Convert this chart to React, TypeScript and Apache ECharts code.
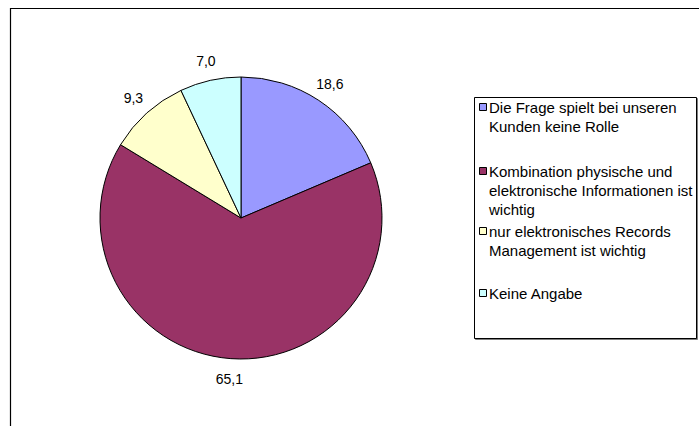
import React, { useEffect, useRef } from "react";
import * as echarts from "echarts";

const categories = [
  "Die Frage spielt bei unseren\nKunden keine Rolle",
  "Kombination physische und\nelektronische Informationen ist\nwichtig",
  "nur elektronisches Records\nManagement ist wichtig",
  "Keine Angabe",
];
const values = [18.6, 65.1, 9.3, 7.0];
const colors = ["#9999FF", "#993366", "#FFFFCC", "#CCFFFF"];

const FONT = "'Liberation Sans', Arial, sans-serif";

export default function App() {
  const ref = useRef<HTMLDivElement>(null);
  useEffect(() => {
    if (!ref.current) return;
    const chart = echarts.init(ref.current, null, { renderer: "svg" });
    const cx = 241;
    const cy = 218;
    const R = 141;
    const total = values.reduce((a, b) => a + b, 0);
    const midAngles: number[] = [];
    let acc = 0;
    values.forEach((v) => {
      midAngles.push(((acc + v / 2) / total) * Math.PI * 2);
      acc += v;
    });
    const legendTops = [97.5, 161.5, 221.5, 283.5];
    const legendGraphics: any[] = [];
    categories.forEach((name, i) => {
      legendGraphics.push({
        type: "rect",
        shape: { x: 479.5, y: legendTops[i] + 6, width: 7, height: 7 },
        style: { fill: colors[i], stroke: "#000", lineWidth: 1 },
        z: 10,
      });
      legendGraphics.push({
        type: "text",
        x: 489,
        y: legendTops[i],
        style: {
          text: name,
          font: `15px ${FONT}`,
          fill: "#000",
          lineHeight: 19,
          verticalAlign: "top",
          align: "left",
        },
        z: 10,
      });
    });
    chart.setOption({
      animation: false,
      backgroundColor: "#fff",
      graphic: [
        {
          type: "rect",
          shape: { x: 10.5, y: 8.5, width: 720, height: 440 },
          style: { fill: "none", stroke: "#000", lineWidth: 1.2 },
          z: 1,
        },
        {
          type: "rect",
          shape: { x: 474.5, y: 97.5, width: 222, height: 241 },
          style: {
            fill: "#fff",
            stroke: "#000",
            lineWidth: 1,
            shadowColor: "rgba(0,0,0,0.5)",
            shadowOffsetX: 1,
            shadowOffsetY: 1,
          },
          z: 5,
        },
        ...legendGraphics,
      ],
      series: [
        {
          type: "pie",
          center: [cx, cy],
          radius: R,
          startAngle: 90,
          clockwise: true,
          avoidLabelOverlap: false,
          data: values.map((v, i) => ({
            value: v,
            name: categories[i],
            itemStyle: { color: colors[i] },
          })),
          itemStyle: { borderColor: "#000", borderWidth: 1 },
          label: {
            show: true,
            position: "outside",
            formatter: (p: any) => p.value.toFixed(1).replace(".", ","),
            fontFamily: FONT,
            fontSize: 14,
            color: "#000",
          },
          labelLine: { show: false, length: 14, length2: 0 },
          labelLayout: (p: any) => {
            const a = midAngles[p.dataIndex];
            const rl = R + 20;
            return {
              x: cx + rl * Math.sin(a),
              y: cy - rl * Math.cos(a),
              align: "center",
              verticalAlign: "middle",
            };
          },
          emphasis: { disabled: true },
        },
      ],
    });
    return () => chart.dispose();
  }, []);
  return (
    <div
      ref={ref}
      style={{ position: "fixed", left: 0, top: 0, width: 699, height: 426 }}
    />
  );
}
